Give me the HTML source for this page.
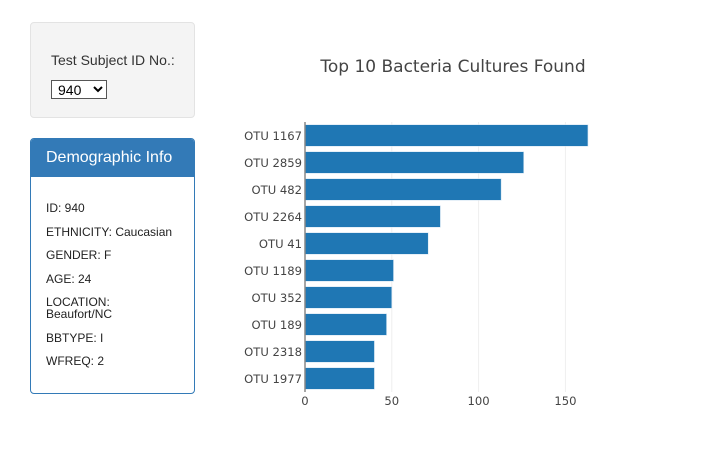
<!DOCTYPE html>
<html><head><meta charset="utf-8">
<style>
body{margin:0;width:709px;height:476px;background:#fff;font-family:"Liberation Sans",Arial,sans-serif;position:relative;overflow:hidden}
.well{position:absolute;left:30px;top:22px;width:163px;height:94px;background:#f4f4f4;border:1px solid #e3e3e3;border-radius:4px}
.well .lbl{position:absolute;left:20px;top:29px;font-size:14px;color:#333}
.well select{position:absolute;left:20px;top:57px;width:56px;height:19px;font-size:14px;font-family:"Liberation Sans",sans-serif;border:1px solid #555;background:#fff;padding:0 2px}
.panel{position:absolute;left:30px;top:138px;width:163px;height:254px;border:1px solid #337ab7;border-radius:4px;overflow:hidden}
.panel .hd{background:#337ab7;color:#fff;font-size:16px;height:38px;line-height:38px;padding-left:15px}
.panel .bd{padding:25px 0 0 15px;font-size:12px;color:#222}
.panel .bd div{margin-bottom:11.5px;line-height:12px}
</style></head><body>
<div class="well">
<div class="lbl">Test Subject ID No.:</div>
<select><option>940</option></select>
</div>
<div class="panel">
<div class="hd">Demographic Info</div>
<div class="bd">
<div>ID: 940</div><div>ETHNICITY: Caucasian</div><div>GENDER: F</div><div>AGE: 24</div><div>LOCATION:<br>Beaufort/NC</div><div>BBTYPE: I</div><div>WFREQ: 2</div>
</div></div>
<svg id="chart" width="709" height="476" style="position:absolute;left:0;top:0">
<text x="453" y="72" text-anchor="middle" font-size="17" fill="#444" font-family="DejaVu Sans, sans-serif">Top 10 Bacteria Cultures Found</text>
</svg>
<script>
const categories=["OTU 1167","OTU 2859","OTU 482","OTU 2264","OTU 41","OTU 1189","OTU 352","OTU 189","OTU 2318","OTU 1977"];
const values=[163,126,113,78,71,51,50,47,40,40];
const xTicks=[0,50,100,150];
const svg=document.getElementById('chart');
const NS='http://www.w3.org/2000/svg';
const x0=305,pxPer=1.736,yTop=122,step=27;
const xs=v=>x0+v*pxPer;
const yc=i=>yTop+step*i+step/2;
function mk(t,a){const e=document.createElementNS(NS,t);for(const k in a)e.setAttribute(k,a[k]);svg.appendChild(e);return e;}
xTicks.forEach(t=>{
 if(t>0){const g=mk('line',{x1:xs(t),x2:xs(t),y1:yTop,y2:yTop+step*10,stroke:'#eee','stroke-width':1});
 
 }
 const l=mk('text',{x:xs(t),y:405,'text-anchor':'middle','font-size':11.6,fill:'#444','font-family':'DejaVu Sans, sans-serif'});
 l.textContent=t;
 
 
});
categories.forEach((c,i)=>{
 const b=mk('rect',{x:x0,y:yc(i)-10.8,width:xs(values[i])-x0,height:21.6,fill:'#1f77b4',stroke:'#d6e6f2','stroke-width':0.6});
 
 
 const t=mk('text',{x:x0-3,y:yc(i)+4.5,'text-anchor':'end','font-size':11.6,fill:'#444','font-family':'DejaVu Sans, sans-serif'});
 t.textContent=c;
 
 
});
const ax=mk('line',{x1:x0,x2:x0,y1:yTop,y2:yTop+step*10,stroke:'#888','stroke-width':1.5});


</script>
</body></html>
